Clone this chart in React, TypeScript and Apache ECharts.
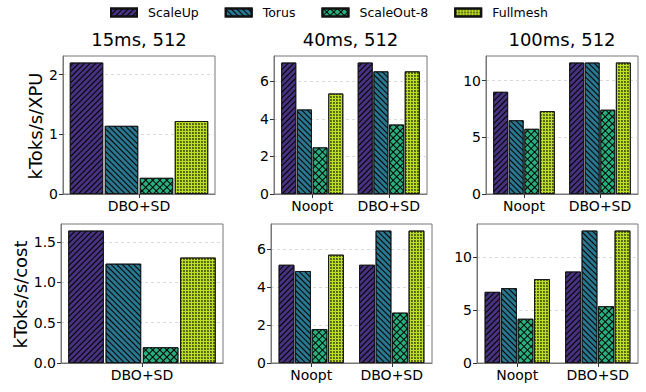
import React, { useEffect, useRef } from 'react';
import * as echarts from 'echarts';

const networks = ['ScaleUp', 'Torus', 'ScaleOut-8', 'Fullmesh'];
const colors = ['#46327e', '#2a768e', '#29af7f', '#bddf26'];
const catsSingle = ['DBO+SD'];
const catsPair = ['Noopt', 'DBO+SD'];
const titles = ['15ms, 512', '40ms, 512', '100ms, 512'];
const yNames = ['kToks/s/XPU', 'kToks/s/cost'];

// values per network, in order [ScaleUp, Torus, ScaleOut-8, Fullmesh]
const xpu15 = [[2.2], [1.14], [0.27], [1.22]];
const xpu40 = [[7.0, 7.0], [4.5, 6.53], [2.48, 3.7], [5.35, 6.53]];
const xpu100 = [[9.0, 11.58], [6.5, 11.58], [5.74, 7.42], [7.3, 11.58]];
const cost15 = [[1.64], [1.23], [0.195], [1.306]];
const cost40 = [[5.17, 5.17], [4.84, 6.97], [1.78, 2.65], [5.7, 6.97]];
const cost100 = [[6.69, 8.61], [7.04, 12.46], [4.16, 5.34], [7.89, 12.46]];

const ticksXpu15 = [0, 1, 2];
const ticksMid = [0, 2, 4, 6];
const ticksWide = [0, 5, 10];
const ticksCost15 = [0, 0.5, 1.0, 1.5];

const FONT = '"DejaVu Sans", Verdana, sans-serif';

const panels = [
  { cats: catsSingle, data: xpu15, ticks: ticksXpu15, interval: 1, dec: 0 },
  { cats: catsPair, data: xpu40, ticks: ticksMid, interval: 2, dec: 0 },
  { cats: catsPair, data: xpu100, ticks: ticksWide, interval: 5, dec: 0 },
  { cats: catsSingle, data: cost15, ticks: ticksCost15, interval: 0.5, dec: 1 },
  { cats: catsPair, data: cost40, ticks: ticksMid, interval: 2, dec: 0 },
  { cats: catsPair, data: cost100, ticks: ticksWide, interval: 5, dec: 0 },
];

const boxes = [
  { left: 63, top: 56, width: 152, height: 138 },
  { left: 274, top: 56, width: 153, height: 138 },
  { left: 486, top: 56, width: 152, height: 138 },
  { left: 61, top: 224, width: 162, height: 139 },
  { left: 271, top: 224, width: 161, height: 139 },
  { left: 477, top: 224, width: 161, height: 139 },
];

const decals: any[] = [
  { symbol: 'rect', symbolSize: 1, dashArrayX: [1, 0], dashArrayY: [1, 3], rotation: -Math.PI / 4, color: '#000' },
  { symbol: 'rect', symbolSize: 1, dashArrayX: [1, 0], dashArrayY: [1, 3], rotation: Math.PI / 4, color: '#000' },
  { symbol: 'rect', symbolSize: 1, dashArrayX: [[1, 0], [1, 4], [1, 4], [1, 4], [1, 4]], dashArrayY: [1, 0], rotation: Math.PI / 4, color: '#000' },
  { symbol: 'circle', symbolSize: 0.75, dashArrayX: [2, 1], dashArrayY: [2, 1], rotation: 0, color: '#000' },
];

export default function App() {
  const ref = useRef<HTMLDivElement>(null);
  useEffect(() => {
    if (!ref.current) return;
    const chart = echarts.init(ref.current, null, { renderer: 'svg' });
    const grid: any[] = [];
    const xAxis: any[] = [];
    const yAxis: any[] = [];
    const series: any[] = [];
    panels.forEach((p, i) => {
      const b = boxes[i];
      grid.push({ ...b, show: true, borderColor: '#777', borderWidth: 1, containLabel: false });
      xAxis.push({
        type: 'category', gridIndex: i, data: p.cats,
        axisLine: { show: true, lineStyle: { color: '#777', width: 1 } },
        axisTick: { show: true, alignWithLabel: true, length: 4, lineStyle: { color: '#333' } },
        axisLabel: { fontSize: 14, color: '#000', fontFamily: FONT, margin: 5, interval: 0, hideOverlap: false },
      });
      let mx = 0;
      p.data.forEach((arr) => arr.forEach((v) => { if (v > mx) mx = v; }));
      yAxis.push({
        type: 'value', gridIndex: i, min: 0, max: mx * 1.05, interval: p.interval,
        axisLine: { show: true, lineStyle: { color: '#777', width: 1 } },
        axisTick: { show: true, length: 4, customValues: p.ticks, lineStyle: { color: '#333' } },
        axisLabel: {
          fontSize: 14, color: '#000', fontFamily: FONT, margin: 5, customValues: p.ticks,
          formatter: (v: number) => v.toFixed(p.dec),
        },
        splitLine: { show: true, lineStyle: { color: '#cfcfcf', type: [3, 3], width: 0.8 } },
      });
      p.data.forEach((vals, n) => {
        series.push({
          type: 'bar', name: networks[n], xAxisIndex: i, yAxisIndex: i, data: vals,
          barGap: '5%', barCategoryGap: p.cats.length === 1 ? '9%' : '19%',
          itemStyle: { color: colors[n], borderColor: '#111', borderWidth: 0.8, decal: decals[n] },
        });
      });
    });
    const graphic: any[] = [];
    titles.forEach((t, c) => {
      const b = boxes[c];
      graphic.push({
        type: 'text', x: b.left + b.width / 2, y: 39,
        style: { text: t, font: `18px ${FONT}`, fill: '#000', align: 'center', verticalAlign: 'middle' },
      });
    });
    const yLabelX = [35.5, 20.5];
    yNames.forEach((t, r) => {
      const b = boxes[r * 3];
      graphic.push({
        type: 'text', x: yLabelX[r], y: b.top + b.height / 2 + 1, rotation: Math.PI / 2,
        style: { text: t, font: `18px ${FONT}`, fill: '#000', align: 'center', verticalAlign: 'middle' },
      });
    });
    chart.setOption({
      animation: false,
      aria: { enabled: true, decal: { show: true } },
      legend: {
        data: networks, left: 105, top: 1, itemWidth: 26, itemHeight: 8, itemGap: 26, icon: 'rect',
        textStyle: { fontSize: 12.5, color: '#000', fontFamily: FONT, padding: [0, 0, 0, 6] },
      },
      grid, xAxis, yAxis, series, graphic,
    });
    return () => chart.dispose();
  }, []);
  return <div ref={ref} style={{ position: 'fixed', left: 0, top: 0, width: 646, height: 392, background: '#fff' }} />;
}
